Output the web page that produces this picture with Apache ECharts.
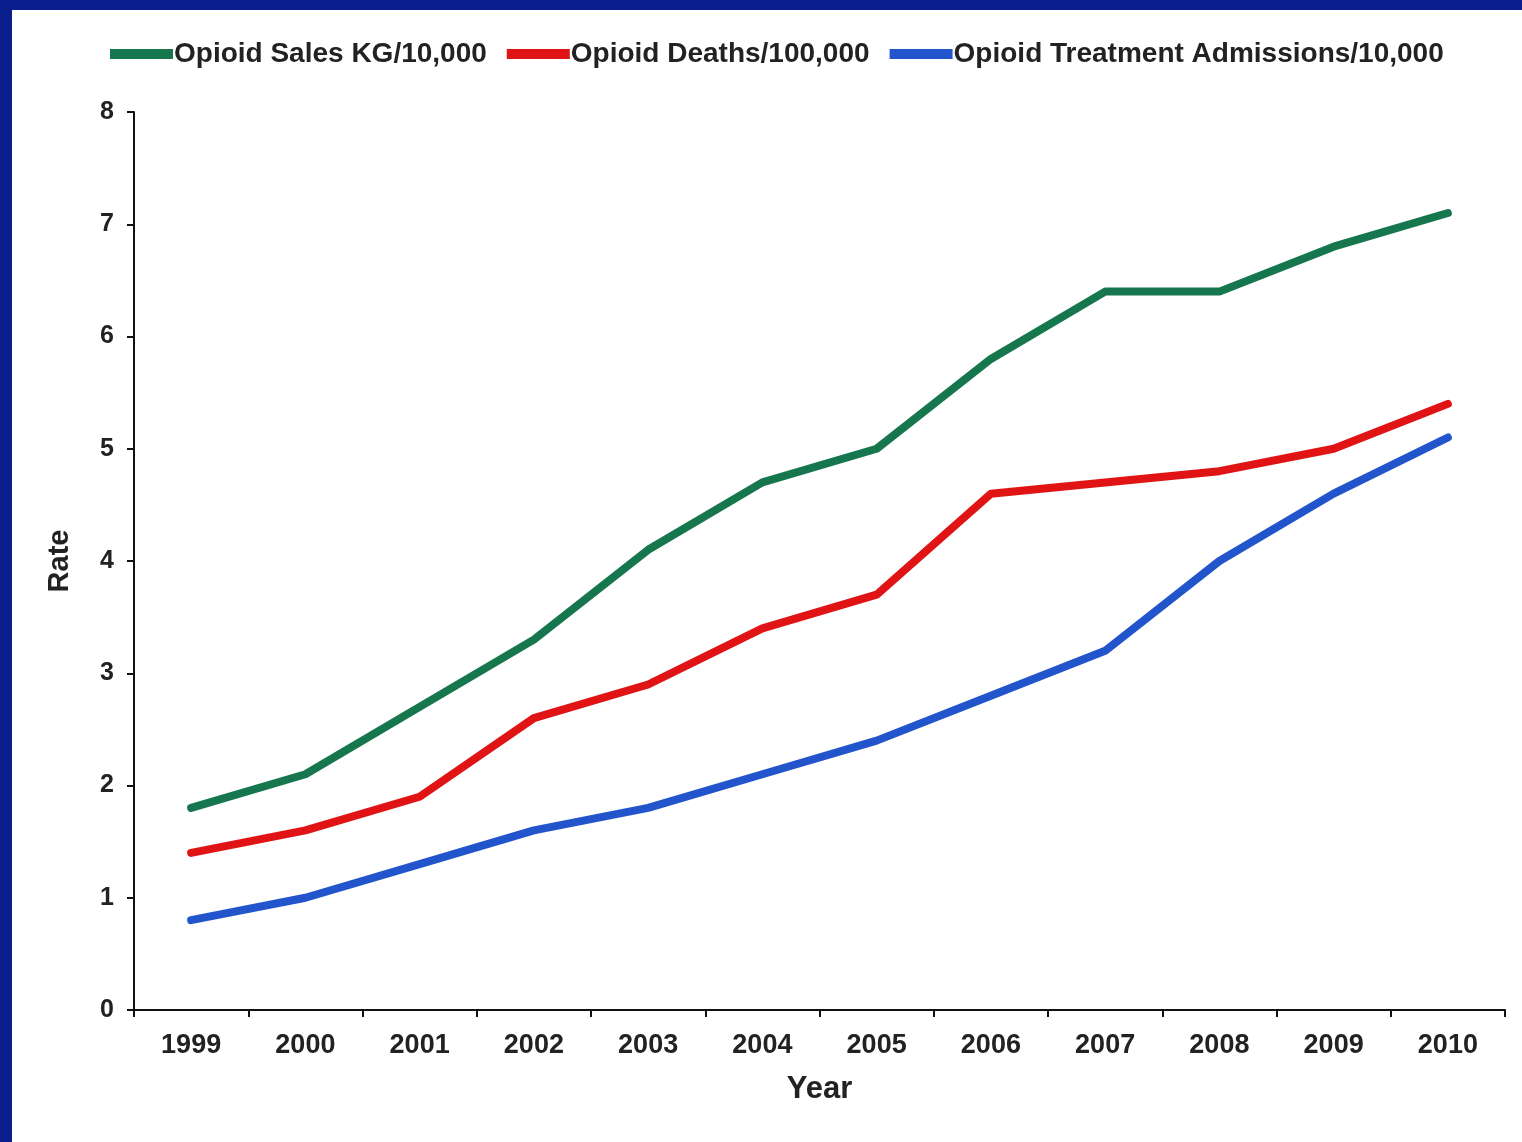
<!DOCTYPE html>
<html>
<head>
<meta charset="utf-8">
<title>Opioid Rates 1999-2010</title>
<script src="https://cdn.jsdelivr.net/npm/echarts@6/dist/echarts.min.js"></script>
<style>
  html, body { margin: 0; padding: 0; width: 1522px; height: 1142px; overflow: hidden; background: #0b1e8e; }
  #chart { position: absolute; left: 12px; top: 10px; width: 1510px; height: 1132px; background: #ffffff; }
</style>
</head>
<body>
<div id="chart"></div>
<script>
// Years on the horizontal axis
const years = ['1999', '2000', '2001', '2002', '2003', '2004', '2005', '2006', '2007', '2008', '2009', '2010'];

// Series values (rates)
const salesKg = [1.8, 2.1, 2.7, 3.3, 4.1, 4.7, 5.0, 5.8, 6.4, 6.4, 6.8, 7.1];
const deaths = [1.4, 1.6, 1.9, 2.6, 2.9, 3.4, 3.7, 4.6, 4.7, 4.8, 5.0, 5.4];
const admissions = [0.8, 1.0, 1.3, 1.6, 1.8, 2.1, 2.4, 2.8, 3.2, 4.0, 4.6, 5.1];

const seriesNames = ['Opioid Sales KG/10,000', 'Opioid Deaths/100,000', 'Opioid Treatment Admissions/10,000'];
const seriesColors = ['#16774f', '#e01414', '#2255cc'];
const seriesData = [salesKg, deaths, admissions];

const chart = echarts.init(document.getElementById('chart'), null, { renderer: 'canvas' });

const fontFamily = '"Liberation Sans", Arial, sans-serif';
const textColor = '#222222';

chart.setOption({
  animation: false,
  backgroundColor: '#ffffff',
  legend: {
    top: 25,
    left: 93,
    icon: 'rect',
    itemWidth: 63,
    itemHeight: 10,
    itemGap: 20,
    textStyle: { fontFamily: fontFamily, fontSize: 28, fontWeight: 'bold', color: textColor, padding: [0, 0, 0, -4] },
    data: seriesNames
  },
  grid: { left: 122, top: 102, right: 17, bottom: 132 },
  xAxis: {
    type: 'category',
    data: years,
    boundaryGap: true,
    name: 'Year',
    nameLocation: 'middle',
    nameGap: 64,
    nameTextStyle: { fontFamily: fontFamily, fontSize: 31, fontWeight: 'bold', color: textColor },
    axisLine: { show: true, lineStyle: { color: '#111111', width: 2 } },
    axisTick: { show: true, alignWithLabel: false, length: 7, lineStyle: { color: '#111111', width: 2 } },
    axisLabel: { fontFamily: fontFamily, fontSize: 27, fontWeight: 'bold', color: textColor, margin: 22 },
    splitLine: { show: false }
  },
  yAxis: {
    type: 'value',
    min: 0,
    max: 8,
    interval: 1,
    name: 'Rate',
    nameLocation: 'middle',
    nameRotate: 90,
    nameGap: 60,
    nameTextStyle: { fontFamily: fontFamily, fontSize: 29, fontWeight: 'bold', color: textColor },
    axisLine: { show: true, lineStyle: { color: '#111111', width: 2 } },
    axisTick: { show: true, length: 7, lineStyle: { color: '#111111', width: 2 } },
    axisLabel: { fontFamily: fontFamily, fontSize: 25, fontWeight: 'bold', color: textColor, margin: 20 },
    splitLine: { show: false }
  },
  series: seriesNames.map((name, i) => ({
    name: name,
    type: 'line',
    data: seriesData[i],
    symbol: 'none',
    smooth: false,
    color: seriesColors[i],
    lineStyle: { width: 8, color: seriesColors[i], cap: 'round', join: 'round' }
  }))
});
</script>
</body>
</html>
